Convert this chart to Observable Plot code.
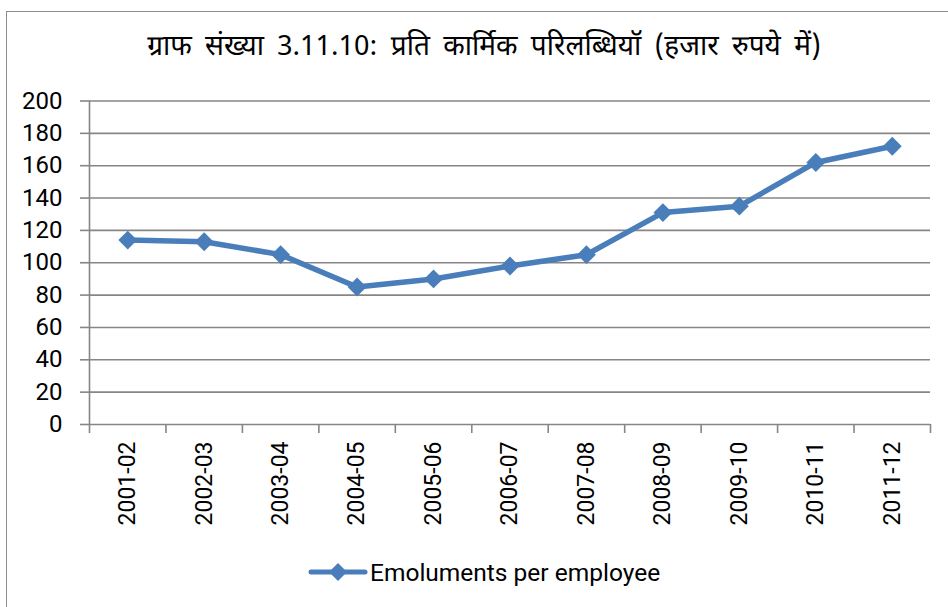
<!DOCTYPE html>
<html><head><meta charset="utf-8">
<script src="https://cdn.jsdelivr.net/npm/d3@7"></script>
<script src="https://cdn.jsdelivr.net/npm/@observablehq/plot@0.6"></script>
<style>
html,body{margin:0;padding:0;background:#fff;}
#frame{position:relative;width:948px;height:607px;overflow:hidden;background:#fff;font-family:Roboto,"Noto Sans",sans-serif;}
#border{position:absolute;left:6px;top:11px;width:1000px;height:700px;border:1.5px solid #8c8c8c;box-sizing:border-box;}
#title{position:absolute;left:10px;width:948px;top:29px;text-align:center;font-size:28px;font-weight:400;word-spacing:6px;line-height:38px;color:#000;font-family:"Noto Sans Devanagari","Lohit Devanagari","FreeSans","Noto Sans",sans-serif;white-space:nowrap;}
#chart{position:absolute;left:0;top:80px;}
#legend{position:absolute;left:308px;top:557px;height:30px;display:flex;align-items:center;font-size:24.5px;color:#000;}
#legend svg{margin-right:2px;}
</style></head>
<body>
<div id="frame">
  <div id="border"></div>
  <div id="title"></div>
  <div id="chart"></div>
  <div id="legend"></div>
</div>
<script>
const titleText = "ग्राफ संख्या 3.11.10: प्रति कार्मिक परिलब्धियॉ (हजार रुपये में)";
const seriesName = "Emoluments per employee";
const categories = ["2001-02","2002-03","2003-04","2004-05","2005-06","2006-07","2007-08","2008-09","2009-10","2010-11","2011-12"];
const values = [114, 113, 105, 85, 90, 98, 105, 131, 135, 162, 172];
const yTicks = [0, 20, 40, 60, 80, 100, 120, 140, 160, 180, 200];

const blue = "#4a7ebb";
const gray = "#868686";

const data = categories.map((c, i) => ({i, cat: c, v: values[i]}));
const idx = categories.map((_, i) => i);
const bounds = [...idx.map(i => i - 0.5), categories.length - 0.5];

document.getElementById("title").textContent = titleText;

const chart = Plot.plot({
  width: 948,
  height: 470,
  marginTop: 20.5,
  marginBottom: 126,
  marginLeft: 89,
  marginRight: 18,
  x: {type: "linear", domain: [-0.5, categories.length - 0.5], axis: null},
  y: {domain: [0, 200], axis: null},
  style: {fontFamily: "Roboto, 'Noto Sans', sans-serif", background: "transparent"},
  marks: [
    Plot.ruleY(yTicks, {stroke: gray, strokeWidth: 1.6}),
    Plot.ruleX([-0.5], {stroke: gray, strokeWidth: 1.6}),
    Plot.axisY(yTicks, {tickSize: 9, tickPadding: 18, stroke: gray, strokeWidth: 1.6, fill: "#000", fontSize: 24, label: null}),
    Plot.axisX(bounds, {tickSize: 9, tickFormat: () => "", stroke: gray, strokeWidth: 1.6, label: null}),
    Plot.axisX(idx, {tickSize: 0, tickPadding: 17, tickRotate: -90, tickFormat: i => categories[i], fill: "#000", fontSize: 23, label: null}),
    Plot.line(data, {x: "i", y: "v", stroke: blue, strokeWidth: 5.5, strokeLinejoin: "round", strokeLinecap: "round"}),
    Plot.dot(data, {x: "i", y: "v", symbol: "diamond2", r: 8.5, fill: blue, stroke: "none"})
  ]
});
document.getElementById("chart").appendChild(chart);

// legend
const leg = document.getElementById("legend");
const ns = "http://www.w3.org/2000/svg";
const ls = document.createElementNS(ns, "svg");
ls.setAttribute("width", 60); ls.setAttribute("height", 30);
ls.innerHTML = `<line x1="3" y1="15" x2="57" y2="15" stroke="${blue}" stroke-width="5" stroke-linecap="round"/>` +
  `<path d="M30,6L39,15L30,24L21,15Z" fill="${blue}"/>`;
leg.appendChild(ls);
const sp = document.createElement("span");
sp.textContent = seriesName;
leg.appendChild(sp);
</script>
</body></html>
